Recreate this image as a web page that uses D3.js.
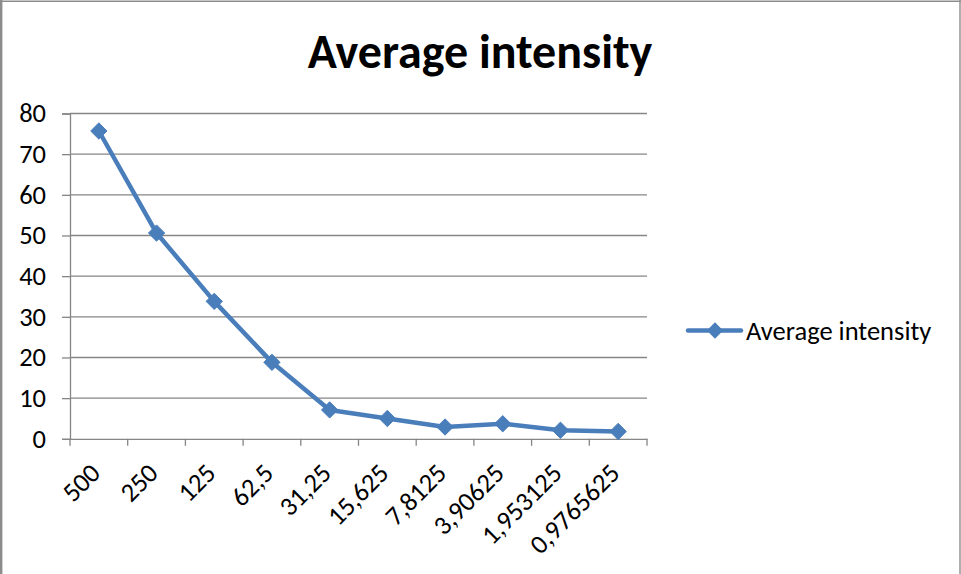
<!DOCTYPE html>
<html><head><meta charset="utf-8">
<script src="https://cdn.jsdelivr.net/npm/d3@7"></script>
<style>body{margin:0;background:#fff}svg{display:block}</style>
</head><body>
<script>
const categories = ["500","250","125","62,5","31,25","15,625","7,8125","3,90625","1,953125","0,9765625"];
const values = [75.7, 50.6, 33.8, 18.8, 7.1, 5.0, 2.9, 3.7, 2.1, 1.8];
const yTicks = [0,10,20,30,40,50,60,70,80];
const seriesName = "Average intensity";
const titleText = "Average intensity";

(function(){
const W = 961, H = 574;
const svg = d3.select("body").append("svg").attr("width", W).attr("height", H);
const font = "Carlito, Calibri, 'Open Sans', sans-serif";
const fs = 26.5;

// outer frame (left, top, right edges)
svg.append("line").attr("x1",1.2).attr("x2",1.2).attr("y1",0).attr("y2",H).attr("stroke","#8c8c8c").attr("stroke-width",2.4);
svg.append("line").attr("x1",0).attr("x2",W).attr("y1",1.3).attr("y2",1.3).attr("stroke","#8c8c8c").attr("stroke-width",1.4);
svg.append("line").attr("x1",960).attr("x2",960).attr("y1",0).attr("y2",H).attr("stroke","#8c8c8c").attr("stroke-width",1.4);

const pLeft = 70, pRight = 647, pTop = 113.5, pBottom = 438.8;
const x = d3.scaleBand().domain(categories).range([pLeft, pRight]);
const y = d3.scaleLinear().domain([0,80]).range([pBottom, pTop]);

// gridlines
svg.append("g").selectAll("line").data(yTicks.filter(d=>d>0)).join("line")
  .attr("x1", pLeft).attr("x2", pRight).attr("y1", d=>y(d)).attr("y2", d=>y(d))
  .attr("stroke","#868686").attr("stroke-width",1.3);

// y axis
const yAxis = svg.append("g").attr("transform",`translate(${pLeft},0)`)
  .call(d3.axisLeft(y).tickValues(yTicks).tickSize(8).tickPadding(16));
yAxis.select(".domain").attr("stroke","#868686").attr("stroke-width",1.3);
yAxis.selectAll(".tick line").attr("stroke","#868686").attr("stroke-width",1.3);
yAxis.selectAll("text").attr("font-family",font).attr("font-size",fs).attr("fill","#000");

// x axis
const xAxis = svg.append("g").attr("transform",`translate(0,${pBottom})`)
  .call(d3.axisBottom(x).tickSize(0).tickFormat(""));
xAxis.select(".domain").attr("stroke","#868686").attr("stroke-width",1.3);
const bounds = categories.map(c=>x(c)).concat([pRight]);
svg.append("g").selectAll("line").data(bounds).join("line")
  .attr("x1",d=>d).attr("x2",d=>d).attr("y1",pBottom).attr("y2",pBottom+7)
  .attr("stroke","#868686").attr("stroke-width",1.3);
svg.append("g").selectAll("text").data(categories).join("text")
  .attr("transform", d=>`translate(${x(d)+x.bandwidth()/2+3},${pBottom+36}) rotate(-45)`)
  .attr("text-anchor","end").attr("font-family",font).attr("font-size",fs)
  .attr("fill","#000").text(d=>d);

// line
const color = "#4a7ebb";
const pts = categories.map((c,i)=>[x(c)+x.bandwidth()/2, y(values[i])]);
svg.append("path").attr("d", d3.line()(pts)).attr("fill","none")
  .attr("stroke",color).attr("stroke-width",4.5).attr("stroke-linejoin","round").attr("stroke-linecap","round");
const diamond = d3.symbol().type(d3.symbolDiamond2).size(170);
svg.append("g").selectAll("path").data(pts).join("path")
  .attr("transform",d=>`translate(${d[0]},${d[1]})`).attr("d",diamond())
  .attr("fill",color).attr("stroke",color).attr("stroke-width",1);

// title
svg.append("text").attr("x",480).attr("y",68).attr("text-anchor","middle")
  .attr("font-family",font).attr("font-weight","bold").attr("font-size",48).attr("fill","#000")
  .text(titleText);

// legend
const ly = 330.5;
svg.append("line").attr("x1",688).attr("x2",741).attr("y1",ly).attr("y2",ly)
  .attr("stroke",color).attr("stroke-width",4.5).attr("stroke-linecap","round");
svg.append("path").attr("transform",`translate(715,${ly})`).attr("d",diamond()).attr("fill",color);
svg.append("text").attr("x",746).attr("y",ly+9).attr("font-family",font).attr("font-size",fs)
  .attr("fill","#000").text(seriesName);
})();
</script>
</body></html>
